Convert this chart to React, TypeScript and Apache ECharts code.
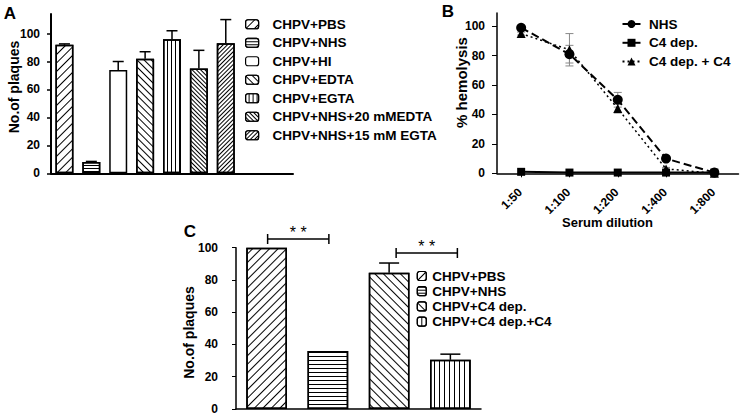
import React, { useEffect, useRef } from 'react';
import * as echarts from 'echarts';

// ---------- Panel A data ----------
const aTreatments = [
  'CHPV+PBS',
  'CHPV+NHS',
  'CHPV+HI',
  'CHPV+EDTA',
  'CHPV+EGTA',
  'CHPV+NHS+20 mMEDTA',
  'CHPV+NHS+15 mM EGTA',
];
const aValues = [92, 8, 74, 82, 96, 75, 93];
const aErrors = [0.6, 0.5, 6, 5, 6, 13, 17];
const aSlots = [...aTreatments, 'slot-8', 'slot-9'];
const aYTicks = [0, 20, 40, 60, 80, 100];

// ---------- Panel B data ----------
const bDilutions = ['1:50', '1:100', '1:200', '1:400', '1:800'];
const bNHS = [99, 81, 50, 10, 0.5];
const bNHSErr = [1, 6, 5, 1, 0];
const bC4dep = [1, 0.5, 0.5, 0.5, 0.5];
const bC4depC4 = [95, 84, 44, 3, 0];
const bC4depC4Err = [1, 11, 3, 1, 0];
const bYTicks = [0, 20, 40, 60, 80, 100];

// ---------- Panel C data ----------
const cTreatments = ['CHPV+PBS', 'CHPV+NHS', 'CHPV+C4 dep.', 'CHPV+C4 dep.+C4'];
const cValues = [100, 36, 84.5, 30.5];
const cErrors = [0, 0, 6, 3.5];
const cYTicks = [0, 20, 40, 60, 80, 100];
const cSignificance = [
  { from: 0, to: 1, value: 105.4, label: '* *' },
  { from: 2, to: 3, value: 96.7, label: '* *' },
];

// ---------- styles ----------
const FONT = '"Liberation Sans", Arial, sans-serif';
const SLASH = -Math.PI / 4;
const BACK = Math.PI / 4;
const stripes = (rotation: number, line: number, gap: number) => ({
  symbol: 'rect',
  symbolSize: 1,
  color: '#000',
  backgroundColor: null,
  dashArrayX: [1, 0],
  dashArrayY: [line, gap],
  rotation,
});
const aDecals: any[] = [
  stripes(SLASH, 1, 5),
  stripes(0, 1, 2),
  null,
  stripes(BACK, 1, 4),
  stripes(Math.PI / 2, 1, 3),
  stripes(BACK, 1, 2),
  stripes(SLASH, 1, 2),
];
const cDecals: any[] = [
  stripes(SLASH, 1, 5),
  stripes(0, 1, 3),
  stripes(BACK, 1, 5),
  stripes(Math.PI / 2, 1, 4),
];
const bracketShift = [1, 7];

const tickLabel = { color: '#000', fontFamily: FONT, fontWeight: 'bold', fontSize: 12 } as const;
const legendText = { color: '#000', fontFamily: FONT, fontWeight: 'bold', fontSize: 13.5 } as const;

function errRender(capHalf: number, color: string, width: number, both: boolean) {
  return (params: any, api: any) => {
    const x = api.value(0);
    const lo = api.value(1);
    const hi = api.value(2);
    const p1 = api.coord([x, lo]);
    const p2 = api.coord([x, hi]);
    const style = { stroke: color, lineWidth: width };
    const children: any[] = [
      { type: 'line', shape: { x1: p1[0], y1: p1[1], x2: p2[0], y2: p2[1] }, style },
      { type: 'line', shape: { x1: p2[0] - capHalf, y1: p2[1], x2: p2[0] + capHalf, y2: p2[1] }, style },
    ];
    if (both) {
      children.push({ type: 'line', shape: { x1: p1[0] - capHalf, y1: p1[1], x2: p1[0] + capHalf, y2: p1[1] }, style });
    }
    return { type: 'group', children };
  };
}

export default function App() {
  const ref = useRef<HTMLDivElement>(null);
  useEffect(() => {
    if (!ref.current) return;
    const chart = echarts.init(ref.current, null, { renderer: 'svg' });

    const aBars = aTreatments.map((name, i) => ({
      name,
      type: 'bar',
      xAxisIndex: 0,
      yAxisIndex: 0,
      stack: 'A',
      barWidth: 18,
      data: aSlots.map((_, j) => (j === i ? aValues[i] : null)),
      itemStyle: { color: '#fff', borderColor: '#000', borderWidth: 1.5, decal: aDecals[i] || undefined },
      emphasis: { disabled: true },
    }));
    const cBars = cTreatments.map((name, i) => ({
      name,
      type: 'bar',
      xAxisIndex: 2,
      yAxisIndex: 2,
      stack: 'C',
      barWidth: 40.7,
      data: cTreatments.map((_, j) => (j === i ? cValues[i] : null)),
      itemStyle: { color: '#fff', borderColor: '#000', borderWidth: 1.5, decal: cDecals[i] },
      emphasis: { disabled: true },
    }));

    const option: any = {
      animation: false,
      backgroundColor: '#fff',
      textStyle: { fontFamily: FONT },
      grid: [
        { left: 51, top: 14, width: 242, height: 159.3 },
        { left: 497, top: 13, width: 241.5, height: 160.3 },
        { left: 236, top: 247.7, width: 245, height: 161.3 },
      ],
      legend: [
        {
          orient: 'vertical',
          left: 245,
          top: 15,
          padding: 0,
          itemGap: 0,
          itemWidth: 13,
          itemHeight: 9,
          data: aTreatments,
          itemStyle: { borderColor: '#000', borderWidth: 1.2 },
          textStyle: { ...legendText, lineHeight: 18.5, padding: [0, 0, 0, 9] },
          selectedMode: false,
        },
        {
          orient: 'vertical',
          left: 621.5,
          top: 14.6,
          padding: 0,
          itemGap: 0,
          itemWidth: 18,
          itemHeight: 10,
          data: ['NHS', 'C4 dep.', 'C4 dep. + C4'],
          textStyle: { ...legendText, lineHeight: 18.8, padding: [0, 0, 0, 3.5] },
          selectedMode: false,
        },
        {
          orient: 'vertical',
          left: 416.7,
          top: 268.4,
          padding: 0,
          itemGap: 0,
          itemWidth: 9,
          itemHeight: 9,
          data: cTreatments,
          itemStyle: { borderColor: '#000', borderWidth: 1.2 },
          textStyle: { ...legendText, lineHeight: 15.2, padding: [0, 0, 0, 1] },
          selectedMode: false,
        },
      ],
      xAxis: [
        {
          gridIndex: 0,
          type: 'category',
          data: aSlots,
          axisLine: { lineStyle: { color: '#000', width: 2 } },
          axisTick: { show: false },
          axisLabel: { show: false },
        },
        {
          gridIndex: 1,
          type: 'category',
          data: bDilutions,
          axisLine: { lineStyle: { color: '#000', width: 1.5 } },
          axisTick: { show: true, alignWithLabel: true, length: 4, lineStyle: { color: '#000', width: 1 } },
          axisLabel: { show: false },
        },
        {
          gridIndex: 2,
          type: 'category',
          data: cTreatments,
          axisLine: { lineStyle: { color: '#000', width: 1.5 } },
          axisTick: { show: false },
          axisLabel: { show: false },
        },
      ],
      yAxis: [
        {
          gridIndex: 0,
          type: 'value',
          min: 0,
          max: 114,
          splitLine: { show: false },
          axisLine: { show: true, lineStyle: { color: '#000', width: 2 } },
          axisTick: { show: true, length: 4, customValues: aYTicks, lineStyle: { color: '#000', width: 1.5 } },
          axisLabel: { ...tickLabel, margin: 11, customValues: aYTicks },
        },
        {
          gridIndex: 1,
          type: 'value',
          min: 0,
          max: 109,
          splitLine: { show: false },
          axisLine: { show: true, lineStyle: { color: '#000', width: 1.5 } },
          axisTick: { show: true, length: 5, customValues: bYTicks, lineStyle: { color: '#000', width: 1 } },
          axisLabel: { ...tickLabel, margin: 12, customValues: bYTicks },
        },
        {
          gridIndex: 2,
          type: 'value',
          min: 0,
          max: 100,
          splitLine: { show: false },
          axisLine: { show: true, lineStyle: { color: '#000', width: 1.5 } },
          axisTick: { show: true, length: 4, customValues: cYTicks, lineStyle: { color: '#000', width: 1 } },
          axisLabel: { ...tickLabel, margin: 18, customValues: cYTicks },
        },
      ],
      series: [
        ...aBars,
        {
          name: 'A-err',
          type: 'custom',
          xAxisIndex: 0,
          yAxisIndex: 0,
          silent: true,
          renderItem: errRender(5.5, '#000', 1.5, false),
          encode: { x: 0, y: [1, 2] },
          data: aValues.map((v, i) => [i, v, v + aErrors[i]]),
          z: 1,
        },
        {
          name: 'B-err-NHS',
          type: 'custom',
          xAxisIndex: 1,
          yAxisIndex: 1,
          silent: true,
          renderItem: errRender(4, '#888', 1, true),
          encode: { x: 0, y: [1, 2] },
          data: bNHS.map((v, i) => [i, v - bNHSErr[i], v + bNHSErr[i]]),
          z: 1,
        },
        {
          name: 'B-err-C4',
          type: 'custom',
          xAxisIndex: 1,
          yAxisIndex: 1,
          silent: true,
          renderItem: errRender(4, '#888', 1, true),
          encode: { x: 0, y: [1, 2] },
          data: bC4depC4.map((v, i) => [i, v - bC4depC4Err[i], v + bC4depC4Err[i]]),
          z: 1,
        },
        {
          name: 'NHS',
          type: 'line',
          xAxisIndex: 1,
          yAxisIndex: 1,
          data: bNHS,
          symbol: 'circle',
          symbolSize: 10,
          lineStyle: { color: '#000', width: 2, type: [8, 4] },
          itemStyle: { color: '#000' },
          z: 3,
        },
        {
          name: 'C4 dep.',
          type: 'line',
          xAxisIndex: 1,
          yAxisIndex: 1,
          data: bC4dep,
          symbol: 'rect',
          symbolSize: 8,
          lineStyle: { color: '#000', width: 2, type: 'solid' },
          itemStyle: { color: '#000' },
          z: 4,
        },
        {
          name: 'C4 dep. + C4',
          type: 'line',
          xAxisIndex: 1,
          yAxisIndex: 1,
          data: bC4depC4,
          symbol: 'triangle',
          symbolSize: 9,
          lineStyle: { color: '#000', width: 1.5, type: [2, 3] },
          itemStyle: { color: '#000' },
          z: 3,
        },
        ...cBars,
        {
          name: 'C-err',
          type: 'custom',
          xAxisIndex: 2,
          yAxisIndex: 2,
          silent: true,
          renderItem: errRender(10, '#000', 1.5, false),
          encode: { x: 0, y: [1, 2] },
          data: cValues.map((v, i) => [i, v, v + cErrors[i]]).filter((d, i) => cErrors[i] > 0),
          z: 1,
        },
      ],
    };
    chart.setOption(option);

    const titleFont = (size: number) => `bold ${size}px ${FONT}`;
    const mid = { fill: '#000', align: 'center', verticalAlign: 'middle' };
    const texts: any[] = [
      { type: 'text', x: 10, y: 13, style: { ...mid, text: 'A', font: titleFont(17) } },
      { type: 'text', x: 448, y: 11, style: { ...mid, text: 'B', font: titleFont(17) } },
      { type: 'text', x: 190, y: 231.5, style: { ...mid, text: 'C', font: titleFont(17) } },
      { type: 'text', x: 14, y: 87, rotation: Math.PI / 2, style: { ...mid, text: 'No.of plaques', font: titleFont(14) } },
      { type: 'text', x: 461.5, y: 82.5, rotation: Math.PI / 2, style: { ...mid, text: '% hemolysis', font: titleFont(15) } },
      { type: 'text', x: 607.5, y: 222.5, style: { ...mid, text: 'Serum dilution', font: titleFont(13) } },
      { type: 'text', x: 189, y: 332.5, rotation: Math.PI / 2, style: { ...mid, text: 'No.of plaques', font: titleFont(14) } },
    ];
    // rotated dilution labels of panel B, anchored on the axis ticks
    bDilutions.forEach((lab, i) => {
      const p = chart.convertToPixel({ gridIndex: 1 } as any, [i, 0]) as number[];
      texts.push({
        type: 'text',
        x: p[0] - 1,
        y: p[1] + 17,
        rotation: Math.PI / 4,
        style: { text: lab, font: titleFont(12), fill: '#000', align: 'right', verticalAlign: 'middle' },
      });
    });
    const brackets: any[] = [];
    cSignificance.forEach((s, k) => {
      const p1 = chart.convertToPixel({ gridIndex: 2 } as any, [s.from, s.value]) as number[];
      const p2 = chart.convertToPixel({ gridIndex: 2 } as any, [s.to, s.value]) as number[];
      const dx = bracketShift[k];
      const x1 = p1[0] + dx;
      const x2 = p2[0] + dx;
      const y = p1[1];
      const st = { stroke: '#000', lineWidth: 1.5 };
      brackets.push(
        { type: 'line', shape: { x1, y1: y, x2, y2: y }, style: st },
        { type: 'line', shape: { x1, y1: y - 5, x2: x1, y2: y + 5 }, style: st },
        { type: 'line', shape: { x1: x2, y1: y - 5, x2, y2: y + 5 }, style: st },
        { type: 'text', x: (x1 + x2) / 2, y: y - 6.5, style: { ...mid, text: s.label, font: `16px ${FONT}` } },
      );
    });
    chart.setOption({ graphic: { elements: [...texts, ...brackets] } });

    return () => chart.dispose();
  }, []);
  return <div ref={ref} style={{ position: 'absolute', left: 0, top: 0, width: 742, height: 416 }} />;
}
